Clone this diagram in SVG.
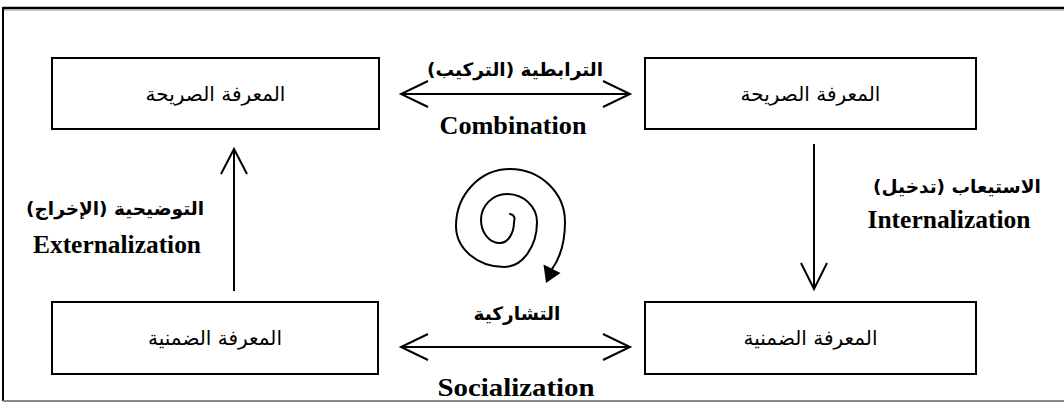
<svg xmlns="http://www.w3.org/2000/svg" width="1064" height="412" viewBox="0 0 1064 412">
  <style>
    .node rect { fill: #ffffff; stroke: #000000; stroke-width: 2; }
    .node text { font-family: "DejaVu Sans", "Liberation Serif", sans-serif; font-size: 20px; text-anchor: middle; fill: #000000; direction: rtl; }
    .ar { font-family: "DejaVu Sans", "Liberation Serif", sans-serif; font-weight: bold; font-size: 18.5px; text-anchor: middle; fill: #000000; direction: rtl; }
    .en { font-family: "Liberation Serif", "Times New Roman", serif; font-weight: bold; font-size: 26px; text-anchor: middle; fill: #000000; }
    .conn { fill: none; stroke: #000000; stroke-width: 2; }
    .head { fill: none; stroke: #000000; stroke-width: 2; stroke-linejoin: miter; }
  </style>

  <rect width="1064" height="412" fill="#ffffff"/>

  <!-- outer frame: top and left dark, bottom grey, open at the right -->
  <g id="frame">
    <line x1="3" y1="8" x2="1064" y2="8" stroke="#000000" stroke-width="2.5"/>
    <line x1="1064" y1="10" x2="3" y2="10" stroke="#9a9a9a" stroke-width="1"/>
    <line x1="3" y1="7" x2="3" y2="401" stroke="#000000" stroke-width="2"/>
    <line x1="3" y1="401" x2="1064" y2="401" stroke="#8a8a8a" stroke-width="2"/>
  </g>

  <g id="node-explicit-left" class="node">
    <rect x="52" y="58" width="327" height="71"/>
    <text x="215.5" y="101">المعرفة الصريحة</text>
  </g>
  <g id="node-explicit-right" class="node">
    <rect x="645" y="58" width="331" height="71"/>
    <text x="810.5" y="101">المعرفة الصريحة</text>
  </g>
  <g id="node-tacit-left" class="node">
    <rect x="52" y="302" width="326" height="72"/>
    <text x="215" y="345">المعرفة الضمنية</text>
  </g>
  <g id="node-tacit-right" class="node">
    <rect x="645" y="302" width="331" height="72"/>
    <text x="810.5" y="345">المعرفة الضمنية</text>
  </g>

  <g id="connectors">
    <!-- Combination: double-headed horizontal -->
    <line class="conn" x1="401" y1="94" x2="630" y2="94"/>
    <polyline class="head" points="428,81 401,94 428,107"/>
    <polyline class="head" points="603,81 630,94 603,107"/>
    <!-- Socialization: double-headed horizontal -->
    <line class="conn" x1="401" y1="347" x2="630" y2="347"/>
    <polyline class="head" points="428,334 401,347 428,360"/>
    <polyline class="head" points="603,334 630,347 603,360"/>
    <!-- Externalization: upward -->
    <line class="conn" x1="234" y1="149" x2="234" y2="291"/>
    <polyline class="head" points="221,174 234,149 247,174"/>
    <!-- Internalization: downward -->
    <line class="conn" x1="814" y1="144" x2="814" y2="289"/>
    <polyline class="head" points="801,263 814,289 827,263"/>
    <!-- spiral with filled head -->
    <path class="conn" stroke-width="4" stroke-linecap="round"
      d="M510,214 Q516,215 514,222
         A14,21 0 0 1 500,243
         A19,23 0 0 1 481,220
         A26,26 0 0 1 507,194
         A30,28 0 0 1 537,222
         A33,45 0 0 1 504,267
         A48,41 0 0 1 456,226
         A54,57 0 0 1 510,169
         A55,53 0 0 1 565,222
         C565,243 560,258 552,269"/>
    <polygon points="546,283 543.5,264.5 560.5,273" fill="#000000"/>
  </g>

  <g id="labels">
    <text class="ar" x="515" y="76">الترابطية (التركيب)</text>
    <text class="en" x="513" y="134" textLength="147" lengthAdjust="spacingAndGlyphs">Combination</text>
    <text class="ar" x="115" y="215">التوضيحية (الإخراج)</text>
    <text class="en" x="117" y="253" textLength="168" lengthAdjust="spacingAndGlyphs">Externalization</text>
    <text class="ar" x="957" y="193">الاستيعاب (تدخيل)</text>
    <text class="en" x="949" y="228" textLength="163" lengthAdjust="spacingAndGlyphs">Internalization</text>
    <text class="ar" x="517" y="320">التشاركية</text>
    <text class="en" x="516" y="396" textLength="157" lengthAdjust="spacingAndGlyphs">Socialization</text>
  </g>
</svg>
